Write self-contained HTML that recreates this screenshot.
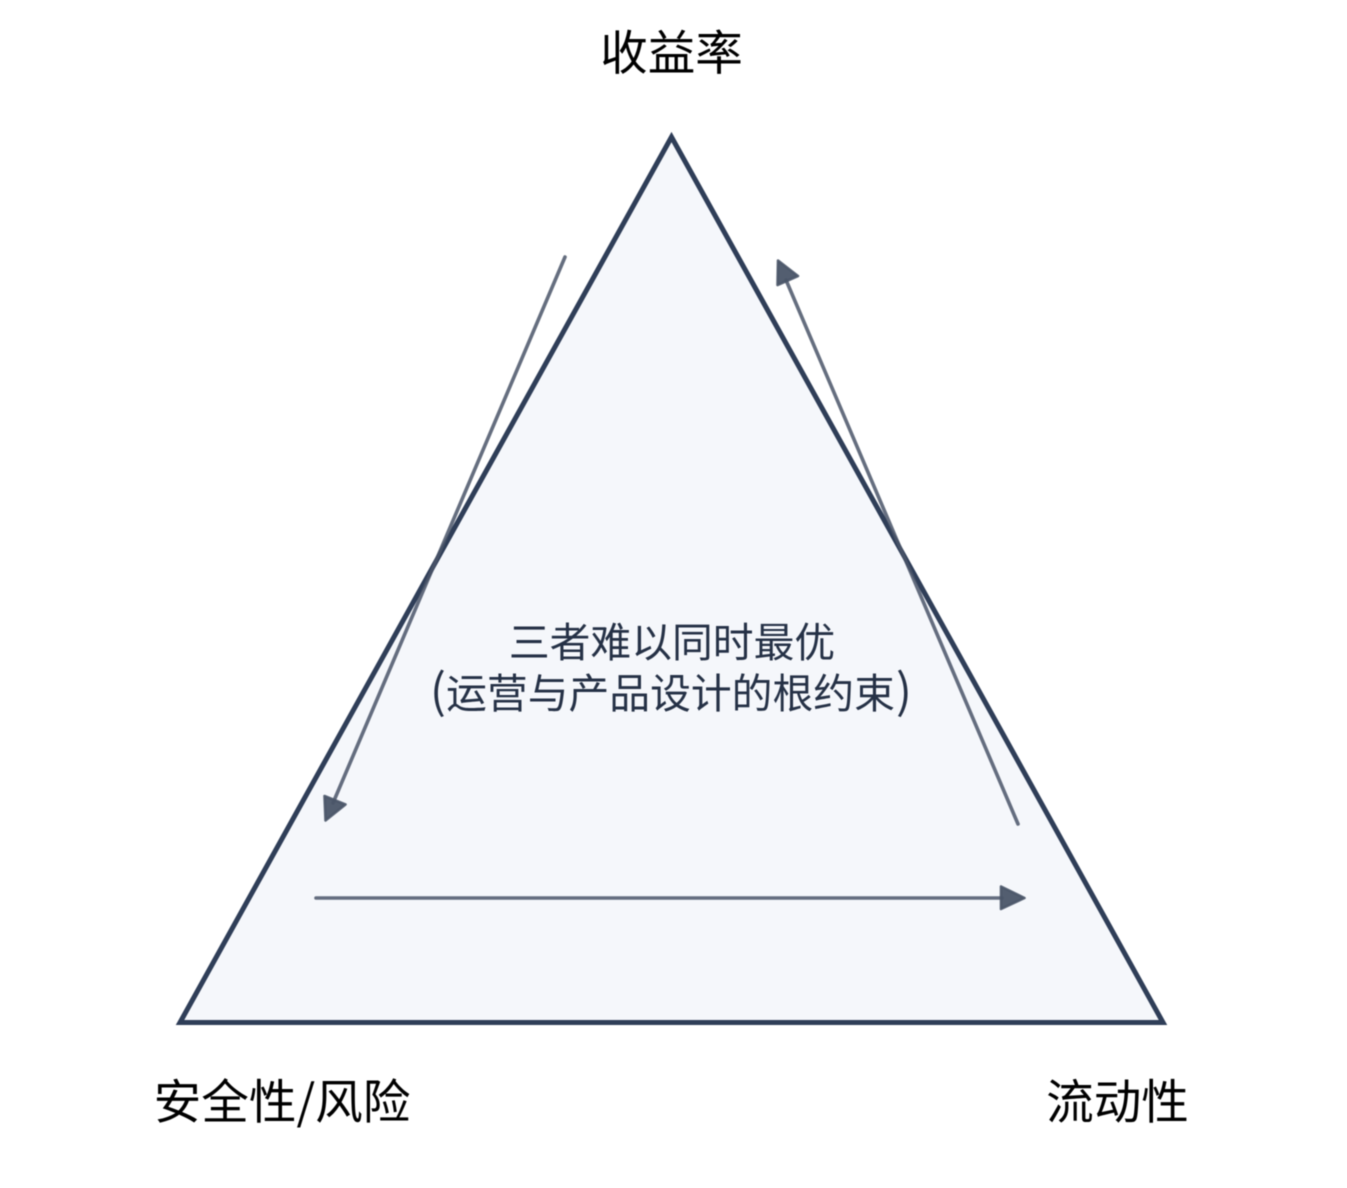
<!DOCTYPE html>
<html lang="zh">
<head>
<meta charset="utf-8">
<style>
html,body{margin:0;padding:0;background:#fff;width:1347px;height:1188px;overflow:hidden}
svg{display:block;filter:blur(.55px)}
text{font-family:"Noto Sans CJK SC","Liberation Sans",sans-serif;text-anchor:middle}
</style>
</head>
<body>
<svg width="1347" height="1188" viewBox="0 0 1347 1188" xmlns="http://www.w3.org/2000/svg">
<rect width="1347" height="1188" fill="#fff"/>
<polygon points="671.5,137 180,1022.5 1163,1022.5" fill="#f5f7fb" stroke="#2f3e58" stroke-width="5"/>
<g stroke="#4a5568" stroke-opacity=".85" stroke-width="3.6" fill="none" stroke-linecap="round">
<line x1="565" y1="257" x2="333" y2="803"/>
<line x1="1018" y1="824" x2="786" y2="280"/>
<line x1="316" y1="898" x2="1002" y2="898"/>
</g>
<g fill="#4a5568" stroke="#4a5568" stroke-width="2.6" stroke-linejoin="round" fill-opacity=".95" stroke-opacity=".9">
<polygon points="325.5,820.5 324.5,796 345.5,804.5"/>
<polygon points="778,260.5 798,276 777.5,285"/>
<polygon points="1024.5,898 1001,886.5 1001,909"/>
</g>
<text x="671.5" y="70" font-size="47.6" fill="#000">收益率</text>
<text x="282" y="1119" font-size="47.6" fill="#000">安全性/风险</text>
<text x="1117.5" y="1119" font-size="47.6" fill="#000">流动性</text>
<text x="672" y="657" font-size="40.8" fill="#253146">三者难以同时最优</text>
<text x="670.5" y="708" font-size="40.8" fill="#253146">运营与产品设计的根约束</text>
<text x="438" y="708" font-size="47" fill="#253146">(</text>
<text x="904" y="708" font-size="47" fill="#253146">)</text>
</svg>
</body>
</html>
